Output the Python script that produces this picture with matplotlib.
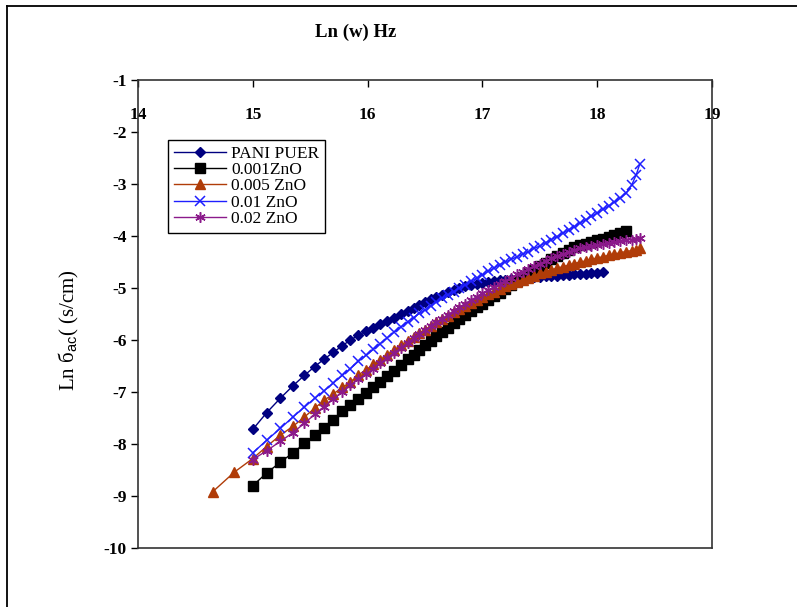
import matplotlib
matplotlib.use("Agg")
import matplotlib.pyplot as plt
from matplotlib.lines import Line2D

plt.rcParams['font.family'] = ['Liberation Serif', 'DejaVu Serif']
plt.rcParams['mathtext.fontset'] = 'custom'
plt.rcParams['mathtext.rm'] = 'Liberation Sans'
plt.rcParams['axes.unicode_minus'] = False

# Ln(w) grid (shared by all series)
ln_w = [15.00, 15.12, 15.24, 15.35, 15.45, 15.54, 15.62, 15.70, 15.78, 15.85,
        15.92, 15.99, 16.05, 16.11, 16.17, 16.23, 16.29, 16.35, 16.40, 16.45,
        16.50, 16.55, 16.60, 16.65, 16.70, 16.75, 16.80, 16.85, 16.90, 16.95,
        17.00, 17.05, 17.10, 17.15, 17.20, 17.25, 17.30, 17.35, 17.40, 17.45,
        17.50, 17.55, 17.60, 17.65, 17.70, 17.75, 17.80, 17.85, 17.90, 17.95,
        18.00, 18.05, 18.10, 18.15, 18.20, 18.25, 18.30, 18.34, 18.37]

pani = [-7.72, -7.40, -7.12, -6.88, -6.68, -6.51, -6.37, -6.24, -6.11, -6.00,
        -5.91, -5.82, -5.76, -5.69, -5.63, -5.57, -5.50, -5.44, -5.38, -5.33,
        -5.27, -5.22, -5.17, -5.13, -5.08, -5.04, -5.00, -4.97, -4.95, -4.92,
        -4.90, -4.88, -4.87, -4.85, -4.84, -4.83, -4.82, -4.81, -4.80, -4.79,
        -4.78, -4.77, -4.76, -4.76, -4.75, -4.75, -4.74, -4.74, -4.73, -4.72,
        -4.71, -4.69]

zno_001 = [-8.80, -8.56, -8.35, -8.17, -7.99, -7.83, -7.69, -7.53, -7.37, -7.25,
           -7.13, -7.02, -6.91, -6.80, -6.69, -6.59, -6.48, -6.37, -6.28, -6.19,
           -6.10, -6.02, -5.93, -5.85, -5.77, -5.68, -5.60, -5.52, -5.45, -5.37,
           -5.30, -5.23, -5.16, -5.09, -5.02, -4.94, -4.87, -4.79, -4.72, -4.65,
           -4.58, -4.52, -4.45, -4.39, -4.33, -4.27, -4.22, -4.18, -4.15, -4.11,
           -4.08, -4.05, -4.01, -3.98, -3.95, -3.90]

# 0.005 ZnO has two extra low-frequency points
ln_w_005_low = [14.65, 14.84]
zno_005_low = [-8.92, -8.54]
zno_005 = [-8.28, -8.05, -7.83, -7.66, -7.48, -7.31, -7.16, -7.04, -6.91, -6.81,
           -6.67, -6.57, -6.47, -6.38, -6.28, -6.19, -6.10, -6.01, -5.94, -5.87,
           -5.80, -5.73, -5.66, -5.60, -5.53, -5.47, -5.40, -5.34, -5.28, -5.23,
           -5.17, -5.12, -5.07, -5.02, -4.97, -4.93, -4.88, -4.84, -4.80, -4.76,
           -4.72, -4.69, -4.65, -4.62, -4.59, -4.56, -4.53, -4.50, -4.48, -4.45,
           -4.42, -4.40, -4.37, -4.35, -4.32, -4.30, -4.28, -4.26, -4.24]

zno_01 = [-8.17, -7.93, -7.70, -7.48, -7.29, -7.12, -6.98, -6.83, -6.68, -6.55,
          -6.41, -6.29, -6.18, -6.07, -5.96, -5.85, -5.75, -5.65, -5.57, -5.49,
          -5.42, -5.34, -5.27, -5.20, -5.13, -5.07, -5.00, -4.94, -4.87, -4.81,
          -4.75, -4.68, -4.62, -4.55, -4.50, -4.45, -4.40, -4.35, -4.30, -4.24,
          -4.19, -4.13, -4.07, -4.01, -3.95, -3.88, -3.82, -3.75, -3.69, -3.62,
          -3.56, -3.49, -3.42, -3.35, -3.27, -3.18, -3.02, -2.82, -2.62]

zno_02 = [-8.30, -8.13, -7.95, -7.78, -7.60, -7.43, -7.28, -7.14, -7.00, -6.87,
          -6.75, -6.66, -6.56, -6.45, -6.35, -6.25, -6.15, -6.05, -5.97, -5.89,
          -5.81, -5.74, -5.66, -5.59, -5.51, -5.44, -5.37, -5.30, -5.23, -5.17,
          -5.10, -5.04, -4.98, -4.92, -4.86, -4.80, -4.74, -4.69, -4.63, -4.58,
          -4.53, -4.48, -4.43, -4.39, -4.35, -4.31, -4.27, -4.24, -4.22, -4.19,
          -4.17, -4.15, -4.13, -4.12, -4.10, -4.08, -4.07, -4.05, -4.04]

fig = plt.figure(figsize=(7.97, 6.07), dpi=100)
ax = fig.add_axes([0.1731, 0.0972, 0.7203, 0.771])

ax.plot(ln_w[:len(pani)], pani, color='#000080', marker='D', markersize=5,
        linewidth=1, label='PANI PUER')
ax.plot(ln_w[:len(zno_001)], zno_001, color='black', marker='s', markersize=7,
        linewidth=1, label='0.001ZnO')
ax.plot(ln_w_005_low + ln_w[:len(zno_005)], zno_005_low + zno_005, color='#B03C08',
        marker='^', markersize=7.5, linewidth=1, label='0.005 ZnO')
ax.plot(ln_w[:len(zno_01)], zno_01, color='#1F1FFF', marker='x', markersize=7,
        markeredgewidth=1.1, linewidth=1, label='0.01 ZnO')
ax.plot(ln_w[:len(zno_02)], zno_02, color='#8B1A8B', marker=(6, 2, 0), markersize=7.5,
        markeredgewidth=1.1, linewidth=1, label='0.02 ZnO')

ax.set_xlim(14, 19)
ax.set_ylim(-10, -1)
ax.set_xticks(range(14, 20))
ax.set_yticks(range(-10, 0))

# x axis sits on top, labels drawn just inside the frame
ax.xaxis.tick_top()
ax.tick_params(axis='x', direction='in', length=5, width=1, pad=-31,
               labelsize=12.5)
ax.tick_params(axis='y', direction='out', length=5, width=1, pad=3,
               labelsize=12.5)
for lab in ax.get_xticklabels() + ax.get_yticklabels():
    lab.set_fontweight('bold')
for sp in ax.spines.values():
    sp.set_linewidth(1.2)
    sp.set_color('#333333')

leg = ax.legend(loc='upper left', bbox_to_anchor=(0.052, 0.872), fancybox=False,
                edgecolor='black', framealpha=1, fontsize=12.5, handlelength=3.0,
                labelspacing=0.0, borderpad=0.35, handletextpad=0.3,
                borderaxespad=0)
leg.get_frame().set_linewidth(1)

fig.text(356 / 797, 1 - 32 / 607, 'Ln (w) Hz', fontsize=13.5, fontweight='bold',
         ha='center', va='center')
fig.text(69 / 797, 1 - 330 / 607, 'Ln б$_{\\mathrm{ac}}$( (s/cm)', fontsize=15,
         rotation=90, ha='center', va='center')

# outer frame of the figure
fig.add_artist(Line2D([7 / 797, 7 / 797], [0, 1 - 6 / 607], color='black', lw=1.3))
fig.add_artist(Line2D([7 / 797, 1], [1 - 6 / 607, 1 - 6 / 607], color='black', lw=1.3))

fig.savefig('out.png', dpi=100)
